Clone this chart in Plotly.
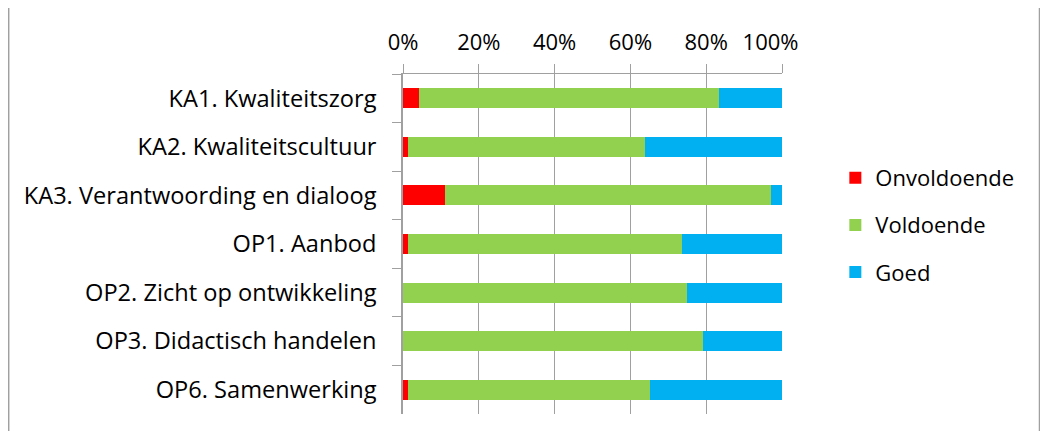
import plotly.graph_objects as go

categories = [
    "KA1. Kwaliteitszorg",
    "KA2. Kwaliteitscultuur",
    "KA3. Verantwoording en dialoog",
    "OP1. Aanbod",
    "OP2. Zicht op ontwikkeling",
    "OP3. Didactisch handelen",
    "OP6. Samenwerking",
]
onvoldoende = [4.2, 1.3, 11.1, 1.3, 0.0, 0.0, 1.3]
voldoende = [79.1, 62.6, 86.1, 72.3, 75.0, 79.2, 63.9]
goed = [16.7, 36.1, 2.8, 26.4, 25.0, 20.8, 34.8]
x_ticks = [0, 20, 40, 60, 80, 100]
x_ticklabels = ["0%", "20%", "40%", "60%", "80%", "100%\u00a0\u00a0\u00a0\u00a0"]

series = [
    ("Onvoldoende", onvoldoende, "#FF0000"),
    ("Voldoende", voldoende, "#92D050"),
    ("Goed", goed, "#00B0F0"),
]

fig = go.Figure()
for name, vals, color in series:
    fig.add_trace(go.Bar(
        y=categories, x=vals, name=name, orientation="h",
        marker=dict(color=color, line=dict(width=0)),
        legendgroup=name,
    ))

FONT = "Open Sans"
# page body has an 8px margin; figure coordinates = window - 8
W, H = 1032, 423
L, T = 395, 66
PW, PH = 378.7, 340
R = W - L - PW
B = H - T - PH
fig.update_layout(
    barmode="stack",
    bargap=0.59,
    width=W, height=H,
    margin=dict(l=L, r=R, t=T, b=B, pad=0, autoexpand=False),
    paper_bgcolor="white", plot_bgcolor="white",
    font=dict(family=FONT, size=23, color="#000000"),
    showlegend=True,
    legend=dict(
        x=(827 - L) / PW, y=(H - B - 149) / PH, xanchor="left", yanchor="top",
        traceorder="grouped", tracegroupgap=15.5,
        font=dict(family=FONT, size=22, color="#000000"),
        itemwidth=30,
    ),
    xaxis=dict(
        side="top", range=[0, 100],
        tickvals=x_ticks, ticktext=x_ticklabels,
        showgrid=True, gridcolor="#A0A0A0", gridwidth=1,
        showline=True, linecolor="#A0A0A0", linewidth=1,
        ticks="outside", ticklen=9, tickcolor="#A0A0A0",
        ticklabelstandoff=5,
        tickfont=dict(family=FONT, size=22),
        zeroline=False, fixedrange=True,
    ),
    yaxis=dict(
        autorange="reversed",
        showline=True, linecolor="#A0A0A0", linewidth=1.5,
        ticks="outside", ticklen=9, tickcolor="#A0A0A0",
        tickson="boundaries", ticklabelstandoff=20,
        tickfont=dict(family=FONT, size=23.6),
        showgrid=False, zeroline=False,
    ),
    shapes=[
        dict(type="line", xref="paper", yref="paper", x0=(1 - L) / PW, x1=(1 - L) / PW,
             y0=-B / PH, y1=(H - B) / PH, line=dict(color="#A0A0A0", width=1.5)),
        dict(type="line", xref="paper", yref="paper", x0=(1031 - L) / PW, x1=(1031 - L) / PW,
             y0=-B / PH, y1=(H - B) / PH, line=dict(color="#A0A0A0", width=1.5)),
    ],
)

fig.write_html("out.html")
